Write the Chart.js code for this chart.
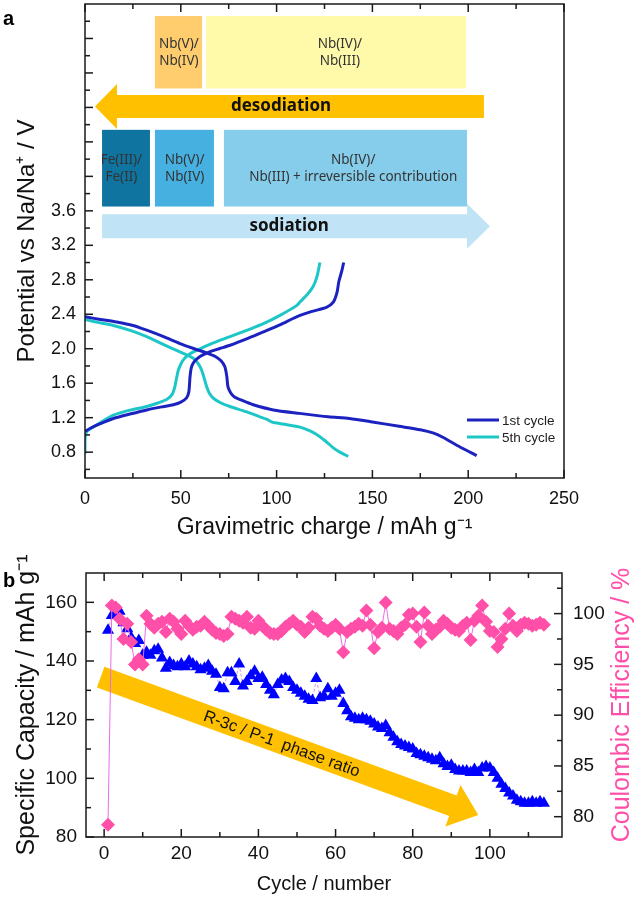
<!DOCTYPE html>
<html>
<head>
<meta charset="utf-8">
<script src="https://cdn.jsdelivr.net/npm/chart.js@4.4.1/dist/chart.umd.min.js"></script>
<style>
  body { margin: 0; background: #fff; width: 640px; height: 899px; overflow: hidden; position: relative; }
  canvas { position: absolute; left: 0; }
  #chartA { top: 0; }
  #chartB { top: 545px; }
</style>
</head>
<body>
<canvas id="chartA" width="640" height="545"></canvas>
<canvas id="chartB" width="640" height="354"></canvas>
<script>
// ---- panel a: charge (mAh/g) vs potential (V) ----
const q1Sod = [0, 8, 16.5, 25, 32.2, 41, 49.6, 57, 63.5, 68, 71, 73, 74, 74.6, 76, 78, 82, 87.8, 98.3, 112, 127, 138, 150, 164, 175, 182, 187, 195.7, 204.4];
const v1Sod = [2.37, 2.34, 2.31, 2.27, 2.215, 2.14, 2.06, 2.0, 1.95, 1.91, 1.86, 1.79, 1.68, 1.56, 1.49, 1.44, 1.40, 1.35, 1.29, 1.25, 1.21, 1.19, 1.15, 1.10, 1.06, 1.02, 0.97, 0.86, 0.76];
const q1Des = [0, 3, 8, 14.8, 24, 32.2, 40, 46.1, 50, 53, 54.2, 54.8, 55.5, 57, 60, 63.5, 70, 75.7, 85, 93.1, 102, 110.4, 118, 126, 129.6, 131.5, 132.5, 134, 135];
const v1Des = [1.04, 1.08, 1.13, 1.19, 1.245, 1.29, 1.325, 1.35, 1.38, 1.43, 1.5, 1.67, 1.78, 1.85, 1.91, 1.95, 2.0, 2.04, 2.12, 2.195, 2.28, 2.37, 2.43, 2.48, 2.54, 2.65, 2.78, 2.9, 3.0];
const q5Sod = [0, 8, 14.8, 24, 32.2, 40, 47.8, 53, 56.5, 59, 60.9, 62.3, 63.5, 65, 67, 71, 75.7, 84, 91.3, 95, 97.4, 99, 105, 112.2, 118, 122.6, 126, 129.6, 133, 137.4];
const v5Sod = [2.34, 2.30, 2.27, 2.21, 2.14, 2.06, 1.98, 1.93, 1.89, 1.83, 1.75, 1.65, 1.56, 1.48, 1.425, 1.37, 1.33, 1.27, 1.21, 1.18, 1.15, 1.14, 1.12, 1.09, 1.04, 0.98, 0.92, 0.85, 0.80, 0.75];
const q5Des = [0, 0, 1, 5, 10, 14.8, 24, 32.2, 38, 42.6, 45.5, 46.9, 47.8, 48.7, 50, 51.3, 54, 58.2, 66, 75.7, 84, 93.1, 102, 110.4, 112.5, 116, 119, 121, 122.6];
const v5Des = [0.78, 0.95, 1.04, 1.1, 1.17, 1.23, 1.29, 1.33, 1.37, 1.41, 1.47, 1.56, 1.66, 1.75, 1.82, 1.87, 1.93, 1.98, 2.06, 2.14, 2.21, 2.29, 2.39, 2.5, 2.55, 2.63, 2.72, 2.83, 3.0];
const cycleNames = ['1st cycle', '5th cycle'];
const xTicksA = [0, 50, 100, 150, 200, 250];
const yTicksA = [0.8, 1.2, 1.6, 2.0, 2.4, 2.8, 3.2, 3.6];

// ---- panel b: cycling ----
const cycles = [1, 2, 3, 4, 5, 6, 7, 8, 9, 10, 11, 12, 13, 14, 15, 16, 17, 18, 19, 20,
  21, 22, 23, 24, 25, 26, 27, 28, 29, 30, 31, 32, 33, 34, 35, 36, 37, 38, 39, 40,
  41, 42, 43, 44, 45, 46, 47, 48, 49, 50, 51, 52, 53, 54, 55, 56, 57, 58, 59, 60,
  61, 62, 63, 64, 65, 66, 67, 68, 69, 70, 71, 72, 73, 74, 75, 76, 77, 78, 79, 80,
  81, 82, 83, 84, 85, 86, 87, 88, 89, 90, 91, 92, 93, 94, 95, 96, 97, 98, 99, 100,
  101, 102, 103, 104, 105, 106, 107, 108, 109, 110, 111, 112, 113, 114];
const capacity = [150.5, 155.5, 155.5, 157, 153, 151, 148, 146, 147, 142,
  143, 142, 143.5, 144, 141, 137.5, 139.5, 138.5, 138, 139,
  138, 140, 139, 138, 137, 137.5, 138.5, 136.5, 135.5, 131,
  130.5, 136, 136, 133, 139, 131.5, 133, 135, 136.5, 134,
  134.5, 132, 130, 128.5, 132, 133.5, 134, 133, 131, 130,
  129, 128, 127, 126.5, 134, 127.5, 128, 130.5, 128, 129,
  130, 125.5, 123, 121, 120.5, 120, 120.5, 120, 119.5, 118.5,
  117.5, 117, 118, 115.5, 114, 112.5, 111.5, 111, 110.5, 110,
  108.5, 108, 107.5, 107, 106.5, 106, 107, 105, 104, 104.5,
  103, 102.5, 102.5, 102.5, 102, 103, 102, 103.5, 104, 103.5,
  102, 100, 98, 96.5, 95, 94, 92.5, 92, 91.5, 91.5,
  92, 91.5, 92, 91.5];
const efficiency = [79.2, 100.8, 100.6, 99.5, 97.5, 99, 97.2, 95, 95.5, 95,
  99.8, 99, 98.6, 99, 99.2, 98.2, 99.5, 99.2, 98.5, 98,
  99.3, 98.8, 98.4, 98.7, 98.8, 99.2, 98.8, 98.4, 98.1, 98,
  97.8, 98, 99.7, 99.5, 99.3, 99.1, 99.7, 98.6, 98.5, 99.3,
  98.8, 98.4, 98.1, 98, 98, 98.3, 98.7, 99, 99.3, 98.9,
  98.7, 98.2, 98.6, 99.7, 99.5, 98.8, 98.5, 98.3, 98.6, 98.9,
  98.5, 96.2, 98.2, 98.5, 98.7, 99, 98.8, 100.3, 98.9, 96.6,
  98.2, 98.6, 101.1, 98.5, 98.3, 98, 98.6, 98.9, 99.9, 100,
  98.7, 97.2, 100.1, 98.8, 98, 98.4, 98.7, 99.3, 99, 98.6,
  98.4, 98.3, 98.8, 99.1, 97.4, 99.3, 99.8, 100.8, 99.2, 98.3,
  98.2, 96.7, 97.5, 98.5, 100, 98.8, 98.3, 98.9, 99.1, 99,
  98.8, 98.9, 99.1, 98.9];
const xTicksB = [0, 20, 40, 60, 80, 100];
const capTicks = [80, 100, 120, 140, 160];
const ceTicks = [80, 85, 90, 95, 100];

const BLUE1 = '#1c22c0';
const CYAN5 = '#1ec6c8';
const PINK = '#ff4fa8';
const SANS = "'Liberation Sans', Arial, sans-serif";
const NOTE = "'Noto Sans', sans-serif";

Chart.defaults.font.family = SANS;
Chart.defaults.color = '#111';

const pts = (xs, ys) => xs.map((x, i) => ({ x: x, y: ys[i] }));
const fixTicks = list => scale => { scale.ticks = list.map(v => ({ value: v })); };
const fixWidth = w => s => { s.width = w; s.paddingTop = 0; s.paddingBottom = 0; };

// inward ticks + frame (Origin style)
const inTicks = {
  id: 'inTicks',
  afterDraw(chart, args, opts) {
    const { ctx, chartArea: a } = chart;
    ctx.save();
    ctx.strokeStyle = '#1a1a1a';
    ctx.lineWidth = 1.5;
    opts.marks.forEach(m => {
      const s = chart.scales[m.scale];
      m.values.forEach(v => {
        const p = s.getPixelForValue(v);
        ctx.beginPath();
        m.sides.forEach(side => {
          if (side === 'bottom') { ctx.moveTo(p, a.bottom); ctx.lineTo(p, a.bottom - m.len); }
          if (side === 'top') { ctx.moveTo(p, a.top); ctx.lineTo(p, a.top + m.len); }
          if (side === 'left') { ctx.moveTo(a.left, p); ctx.lineTo(a.left + m.len, p); }
          if (side === 'right') { ctx.moveTo(a.right, p); ctx.lineTo(a.right - m.len, p); }
        });
        ctx.stroke();
      });
    });
    ctx.strokeRect(a.left, a.top, a.right - a.left, a.bottom - a.top);
    ctx.restore();
  }
};

function arrow(ctx, x0, y0, x1, y1, shaftW, headW, headL, color) {
  const dx = x1 - x0, dy = y1 - y0, len = Math.hypot(dx, dy);
  const ux = dx / len, uy = dy / len, nx = -uy, ny = ux;
  const bx = x1 - ux * headL, by = y1 - uy * headL;
  const s = shaftW / 2, h = headW / 2;
  ctx.beginPath();
  ctx.moveTo(x0 + nx * s, y0 + ny * s);
  ctx.lineTo(bx + nx * s, by + ny * s);
  ctx.lineTo(bx + nx * h, by + ny * h);
  ctx.lineTo(x1, y1);
  ctx.lineTo(bx - nx * h, by - ny * h);
  ctx.lineTo(bx - nx * s, by - ny * s);
  ctx.lineTo(x0 - nx * s, y0 - ny * s);
  ctx.closePath();
  ctx.fillStyle = color;
  ctx.fill();
}

// redox boxes and arrows of panel a, in data units
const boxesA = [
  { x0: 36.5, x1: 61.1, y0: 5.02, y1: 5.86, fill: '#ffcc6e', tx: 49, lines: ['Nb(V)/', 'Nb(IV)'] },
  { x0: 63.2, x1: 198.9, y0: 5.02, y1: 5.86, fill: '#fffaaa', tx: 133, lines: ['Nb(IV)/', 'Nb(III)'] },
  { x0: 8.9, x1: 33.9, y0: 3.65, y1: 4.54, fill: '#0f74a0', tx: 19, lines: ['Fe(III)/', 'Fe(II)'] },
  { x0: 36.5, x1: 67.3, y0: 3.65, y1: 4.54, fill: '#46b0e0', tx: 52, lines: ['Nb(V)/', 'Nb(IV)'] },
  { x0: 72.5, x1: 199.4, y0: 3.65, y1: 4.54, fill: '#86cdeb', tx: 140, lines: ['Nb(IV)/', 'Nb(III) + irreversible contribution'] }
];

const notesA = {
  id: 'notesA',
  beforeDatasetsDraw(chart) {
    const { ctx } = chart;
    const X = v => chart.scales.x.getPixelForValue(v);
    const Y = v => chart.scales.y.getPixelForValue(v);
    ctx.save();
    boxesA.forEach(b => {
      ctx.fillStyle = b.fill;
      ctx.fillRect(X(b.x0), Y(b.y1), X(b.x1) - X(b.x0), Y(b.y0) - Y(b.y1));
      ctx.fillStyle = '#333';
      ctx.font = '13.5px ' + NOTE;
      ctx.textAlign = 'center';
      ctx.textBaseline = 'middle';
      const cy = (Y(b.y0) + Y(b.y1)) / 2;
      ctx.fillText(b.lines[0], X(b.tx), cy - 8);
      ctx.fillText(b.lines[1], X(b.tx), cy + 9);
    });
    // desodiation arrow (points left)
    arrow(ctx, X(208.2), Y(4.81), X(5.2), Y(4.81), 23, 45, 22, '#ffc000');
    // sodiation arrow (points right)
    arrow(ctx, X(8.9), Y(3.42), X(211.4), Y(3.42), 24, 45, 23, '#c0e4f5');
    ctx.fillStyle = '#111';
    ctx.font = 'bold 17px ' + NOTE;
    ctx.textAlign = 'center';
    ctx.textBaseline = 'middle';
    ctx.fillText('desodiation', X(102.3), Y(4.81));
    ctx.fillText('sodiation', X(106.5), Y(3.42));
    // legend
    const a = chart.chartArea;
    ctx.font = '13.5px ' + SANS;
    ctx.textAlign = 'left';
    [BLUE1, CYAN5].forEach((c, i) => {
      const ly = a.bottom - 58 + i * 17;
      ctx.strokeStyle = c;
      ctx.lineWidth = 3;
      ctx.beginPath();
      ctx.moveTo(a.right - 97, ly);
      ctx.lineTo(a.right - 65, ly);
      ctx.stroke();
      ctx.fillStyle = '#222';
      ctx.fillText(cycleNames[i], a.right - 62, ly + 1);
    });
    // panel letter
    ctx.font = 'bold 20px ' + SANS;
    ctx.fillStyle = '#000';
    ctx.textBaseline = 'alphabetic';
    ctx.fillText('a', 3, 25);
    ctx.restore();
  }
};

new Chart(document.getElementById('chartA'), {
  type: 'line',
  data: {
    datasets: [
      { label: cycleNames[0], data: pts(q1Sod, v1Sod), borderColor: BLUE1 },
      { label: cycleNames[0], data: pts(q1Des, v1Des), borderColor: BLUE1 },
      { label: cycleNames[1], data: pts(q5Sod, v5Sod), borderColor: CYAN5 },
      { label: cycleNames[1], data: pts(q5Des, v5Des), borderColor: CYAN5 }
    ]
  },
  options: {
    responsive: false,
    animation: false,
    devicePixelRatio: 1,
    layout: { padding: { top: 4, right: 76, left: 0, bottom: 0 } },
    elements: { point: { radius: 0 }, line: { borderWidth: 3, tension: 0.25, fill: false } },
    plugins: {
      legend: { display: false },
      tooltip: { enabled: false },
      inTicks: {
        marks: [
          { scale: 'x', values: xTicksA, len: 8, sides: ['bottom', 'top'] },
          { scale: 'x', values: [25, 75, 125, 175, 225], len: 5, sides: ['bottom', 'top'] },
          { scale: 'y', values: [0.8, 1.2, 1.6, 2.0, 2.4, 2.8, 3.2, 3.6, 4.0, 4.4, 4.8, 5.2, 5.6], len: 8, sides: ['left'] },
          { scale: 'y', values: [0.6, 1.0, 1.4, 1.8, 2.2, 2.6, 3.0, 3.4, 3.8, 4.2, 4.6, 5.0, 5.4, 5.8], len: 5, sides: ['left'] }
        ]
      }
    },
    scales: {
      x: {
        type: 'linear', min: 0, max: 250,
        grid: { display: false, drawTicks: false },
        border: { display: false },
        afterBuildTicks: fixTicks(xTicksA),
        afterFit: s => { s.height = 67; },
        ticks: { padding: 10, font: { size: 18 }, maxRotation: 0, autoSkip: false, callback: v => String(v) },
        title: { display: true, text: 'Gravimetric charge / mAh g\u207B\u00B9', font: { size: 23 }, padding: { top: 0, bottom: 4 } }
      },
      y: {
        type: 'linear', min: 0.5, max: 6.0,
        grid: { display: false, drawTicks: false },
        border: { display: false },
        afterBuildTicks: fixTicks(yTicksA),
        afterFit: fixWidth(85),
        ticks: { padding: 9, font: { size: 18 }, autoSkip: false, callback: v => v.toFixed(1) },
        title: { display: true, text: 'Potential vs Na/Na\u207A / V', font: { size: 24 }, padding: { top: 13, bottom: 0 } }
      }
    }
  },
  plugins: [notesA, inTicks]
});

// ---- panel b ----
const notesB = {
  id: 'notesB',
  beforeDatasetsDraw(chart) {
    const { ctx } = chart;
    const X = v => chart.scales.x.getPixelForValue(v);
    const Y = v => chart.scales.y.getPixelForValue(v);
    const x0 = X(-0.9), y0 = Y(134.5), x1 = X(97), y1 = Y(87.5);
    ctx.save();
    arrow(ctx, x0, y0, x1, y1, 22, 44, 27, '#ffc000');
    const t = 0.48;
    ctx.translate(x0 + (x1 - x0) * t, y0 + (y1 - y0) * t);
    ctx.rotate(Math.atan2(y1 - y0, x1 - x0));
    ctx.fillStyle = '#111';
    ctx.font = '16.5px ' + SANS;
    ctx.textAlign = 'center';
    ctx.textBaseline = 'middle';
    ctx.fillText('R-3c / P-1  phase ratio', 0, 1);
    ctx.restore();
  },
  afterDraw(chart) {
    const { ctx, chartArea: a } = chart;
    ctx.save();
    ctx.translate(622, (a.top + a.bottom) / 2);
    ctx.rotate(-Math.PI / 2);
    ctx.fillStyle = PINK;
    ctx.font = '25px ' + SANS;
    ctx.textAlign = 'center';
    ctx.textBaseline = 'middle';
    ctx.fillText('Coulombic Efficiency / %', 0, 0);
    ctx.restore();
    ctx.save();
    ctx.font = 'bold 20px ' + SANS;
    ctx.fillStyle = '#000';
    ctx.fillText('b', 3, 42);
    ctx.restore();
  }
};

new Chart(document.getElementById('chartB'), {
  type: 'line',
  data: {
    datasets: [
      {
        label: 'Coulombic efficiency', yAxisID: 'y1', order: 1,
        data: pts(cycles, efficiency),
        pointStyle: 'rectRot', pointRadius: 7,
        pointBackgroundColor: PINK, pointBorderColor: PINK, pointBorderWidth: 0,
        borderColor: '#e86be8', borderWidth: 1, showLine: true, tension: 0
      },
      {
        label: 'Specific capacity', yAxisID: 'y', order: 2,
        data: pts(cycles, capacity),
        pointStyle: 'triangle', pointRadius: 7,
        pointBackgroundColor: '#0000ff', pointBorderColor: '#0000ff', pointBorderWidth: 0,
        borderColor: 'rgba(200,120,230,0.8)', borderWidth: 1, borderDash: [3, 2], showLine: true, tension: 0
      }
    ]
  },
  options: {
    responsive: false,
    animation: false,
    devicePixelRatio: 1,
    layout: { padding: { top: 28, right: 0, left: 0, bottom: 0 } },
    plugins: {
      legend: { display: false },
      tooltip: { enabled: false },
      inTicks: {
        marks: [
          { scale: 'x', values: xTicksB, len: 8, sides: ['bottom', 'top'] },
          { scale: 'x', values: [10, 30, 50, 70, 90, 110], len: 5, sides: ['bottom', 'top'] },
          { scale: 'y', values: capTicks, len: 8, sides: ['left'] },
          { scale: 'y', values: [90, 110, 130, 150], len: 5, sides: ['left'] },
          { scale: 'y1', values: ceTicks, len: 8, sides: ['right'] },
          { scale: 'y1', values: [82.5, 87.5, 92.5, 97.5, 102.5], len: 5, sides: ['right'] }
        ]
      }
    },
    scales: {
      x: {
        type: 'linear', min: -4.7, max: 118.7,
        grid: { display: false, drawTicks: false },
        border: { display: false },
        afterBuildTicks: fixTicks(xTicksB),
        afterFit: s => { s.height = 62; },
        ticks: { padding: 5, font: { size: 19 }, maxRotation: 0, autoSkip: false, callback: v => String(v) },
        title: { display: true, text: 'Cycle / number', font: { size: 20 }, padding: { top: 0, bottom: 3 } }
      },
      y: {
        type: 'linear', position: 'left', min: 80, max: 170,
        grid: { display: false, drawTicks: false },
        border: { display: false },
        afterBuildTicks: fixTicks(capTicks),
        afterFit: fixWidth(86),
        ticks: { padding: 9, font: { size: 19 }, autoSkip: false, callback: v => String(v) },
        title: { display: true, text: 'Specific Capacity / mAh g\u207B\u00B9', font: { size: 25 }, padding: { top: 12, bottom: 0 } }
      },
      y1: {
        type: 'linear', position: 'right', min: 78, max: 104,
        grid: { display: false, drawTicks: false },
        border: { display: false },
        afterBuildTicks: fixTicks(ceTicks),
        afterFit: fixWidth(78),
        ticks: { padding: 11, font: { size: 19 }, autoSkip: false, callback: v => String(v) }
      }
    }
  },
  plugins: [notesB, inTicks]
});
</script>
</body>
</html>
